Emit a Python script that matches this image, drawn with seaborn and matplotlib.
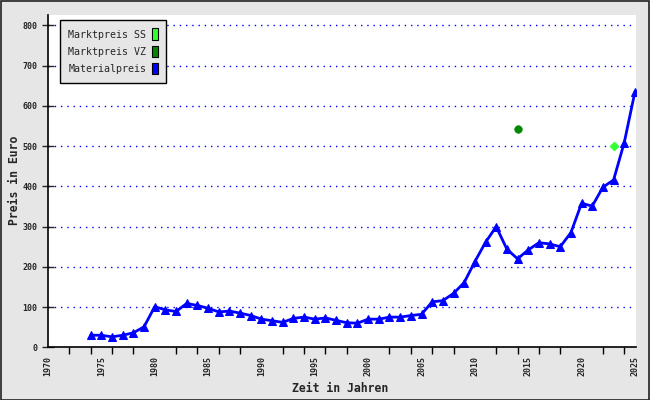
import matplotlib
matplotlib.use("Agg")
from matplotlib import pyplot as plt
from matplotlib.patches import Patch, Rectangle
from matplotlib.ticker import MultipleLocator
import numpy as np
import pandas as pd
import seaborn as sns

# Materialpreis per year
years = list(range(1974, 2026))
material = [30, 30, 26, 30, 36, 51, 101, 93, 89, 109, 104, 97, 88, 90, 85, 79,
            70, 66, 62, 72, 75, 70, 73, 67, 61, 60, 70, 70, 75, 75, 79, 82,
            113, 116, 134, 161, 213, 261, 300, 244, 220, 242, 260, 257, 250, 285,
            358, 351, 398, 416, 509, 635]
# Marktpreis points
ss_year = [2023]
ss_price = [500]
vz_year = [2014]
vz_price = [542]

labels = ['Marktpreis SS', 'Marktpreis VZ', 'Materialpreis']
colors = ['#33ff33', '#008800', '#0000ff']

df = pd.DataFrame({'Jahr': years, 'Preis': material})

sns.set_style('white')
plt.rcParams['font.family'] = ['DejaVu Sans Mono']

fig = plt.figure(figsize=(6.5, 4), dpi=100)
fig.patch.set_facecolor('#e6e6e6')
fig.patches.append(Rectangle((0.0008, 0.001), 0.9984, 0.997, transform=fig.transFigure,
                             fill=False, edgecolor='#222222', linewidth=1.2))
ax = fig.add_axes([48 / 650, 1 - 347.3 / 400, (636 - 48) / 650, (347.3 - 15) / 400])
ax.set_facecolor('white')

# grid
for v in range(100, 801, 100):
    ax.axhline(v, color='#0000ff', linestyle=(0, (1, 3.5)), linewidth=1, zorder=1)

sns.lineplot(data=df, x='Jahr', y='Preis', ax=ax, color=colors[2], linewidth=2,
             marker='^', markersize=6, markeredgecolor=colors[2], zorder=3)
sns.scatterplot(x=vz_year, y=vz_price, ax=ax, color=colors[1], s=30, marker='o',
                edgecolor=colors[1], zorder=4)
sns.scatterplot(x=ss_year, y=ss_price, ax=ax, color=colors[0], s=22, marker='D',
                edgecolor=colors[0], zorder=4)

ax.set_xlim(1970, 2025.1)
ax.set_ylim(0, 826)

ax.xaxis.set_major_locator(MultipleLocator(5))
ax.xaxis.set_minor_locator(MultipleLocator(2))
ax.yaxis.set_major_locator(MultipleLocator(100))
ax.tick_params(axis='x', which='major', length=0, labelsize=6, rotation=90, pad=6)
ax.tick_params(axis='x', which='minor', length=5, width=1, color='black', direction='out', bottom=True)
ax.tick_params(axis='y', which='major', length=9, width=1, direction='inout', labelsize=6, pad=3, left=True)
for lbl in ax.get_xticklabels() + ax.get_yticklabels():
    lbl.set_fontweight('bold')

for s in ['top', 'right']:
    ax.spines[s].set_visible(False)
for s in ['left', 'bottom']:
    ax.spines[s].set_color('black')
    ax.spines[s].set_linewidth(1.2)

ax.set_xlabel('')
ax.set_ylabel('')
fig.text(340 / 650, 1 - 388 / 400, 'Zeit in Jahren', fontsize=8.3, fontweight='bold',
         ha='center', va='center')
fig.text(15 / 650, 1 - 180 / 400, 'Preis in Euro', fontsize=8.3, fontweight='bold',
         ha='center', va='center', rotation=90)

handles = [Patch(facecolor=c, edgecolor='black', linewidth=0.8) for c in colors]
leg = fig.legend(handles, labels, loc='upper left', bbox_to_anchor=(60 / 650, 1 - 20 / 400),
                 markerfirst=False, fancybox=False, frameon=True, fontsize=7.2,
                 handlelength=0.6, handleheight=1.4, handletextpad=0.5,
                 labelspacing=0.55, borderpad=0.85, borderaxespad=0)
leg.get_frame().set_facecolor('#e6e6e6')
leg.get_frame().set_edgecolor('black')
leg.get_frame().set_linewidth(1)
leg.get_frame().set_alpha(1)

fig.savefig('out.png', dpi=100, facecolor=fig.get_facecolor())
